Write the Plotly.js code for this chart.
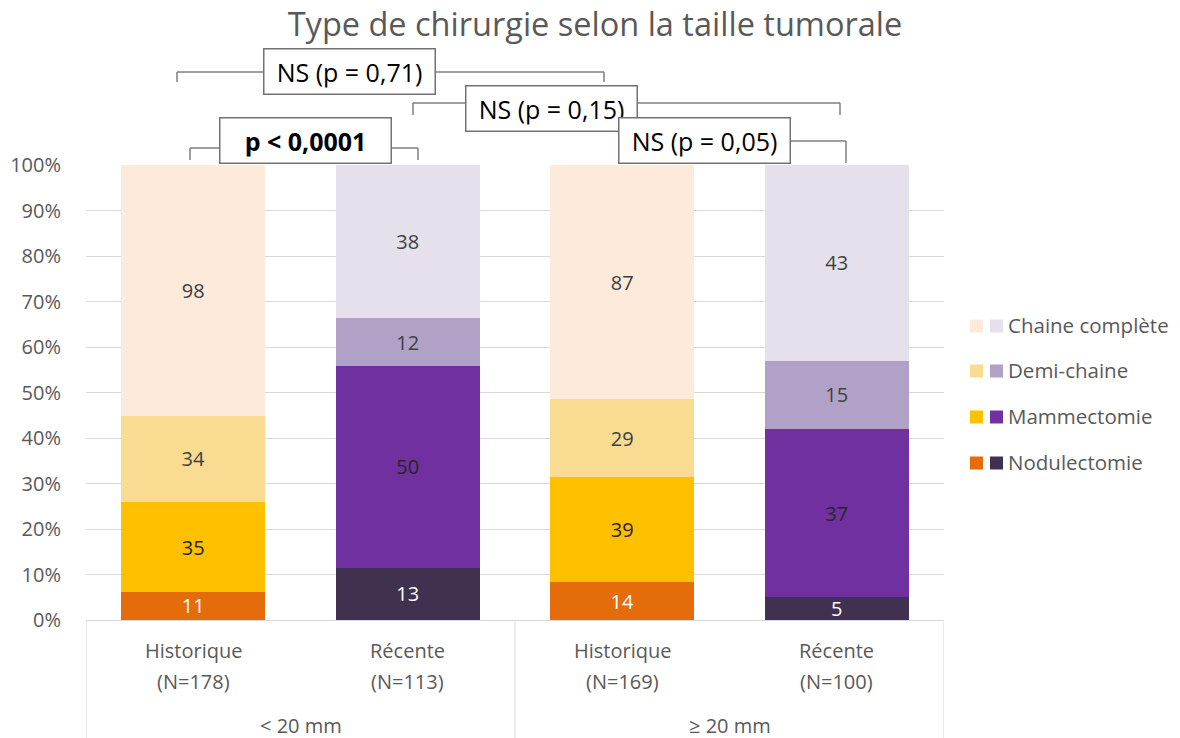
<!DOCTYPE html>
<html>
<head>
<meta charset="utf-8">
<script src="https://cdn.plot.ly/plotly-3.0.1.min.js"></script>
<style>html,body{margin:0;padding:0;background:#fff;}#chart{width:1180px;height:738px;}</style>
</head>
<body>
<div id="chart"></div>
<script>
// ---- Data ----
const categories = ["Historique (N=178)", "Récente (N=113)", "Historique (N=169)", "Récente (N=100)"];
const periodLabels = ["Historique", "Récente", "Historique", "Récente"];
const nLabels = ["(N=178)", "(N=113)", "(N=169)", "(N=100)"];
const groupLabels = ["< 20 mm", "≥ 20 mm"];
const surgeryTypes = ["Nodulectomie", "Mammectomie", "Demi-chaine", "Chaine complète"];
// counts per surgery type, per bar (order of categories)
const nodulectomie   = [11, 13, 14, 5];
const mammectomie    = [35, 50, 39, 37];
const demiChaine     = [34, 12, 29, 15];
const chaineComplete = [98, 38, 87, 43];
const pTexts = ["NS (p = 0,71)", "NS (p = 0,15)", "NS (p = 0,05)", "<b>p < 0,0001</b>"];

// ---- Styles ----
const orangeColors = ["#E46C0A", "#FFC000", "#F9DC91", "#FDEADA"];
const purpleColors = ["#403151", "#7030A0", "#B2A1C7", "#E5E0EC"];
const labelColors = ["#FFFFFF", "#262626", "#404040", "#404040"];
const FONT = "'Open Sans', sans-serif";
const GRAY = "#595959";

const series = [nodulectomie, mammectomie, demiChaine, chaineComplete];
const histIdx = [0, 2];
const recIdx = [1, 3];

const traces = [];
[[histIdx, orangeColors], [recIdx, purpleColors]].forEach(([idx, colors]) => {
  series.forEach((vals, s) => {
    traces.push({
      type: "bar",
      name: surgeryTypes[s],
      x: idx.map(i => categories[i]),
      y: idx.map(i => vals[i]),
      text: idx.map(i => String(vals[i])),
      textposition: "inside",
      insidetextanchor: "middle",
      textangle: 0,
      textfont: {family: FONT, size: 20, color: labelColors[s]},
      marker: {color: colors[s], line: {width: 0}},
      hoverinfo: "skip",
      showlegend: false
    });
  });
});

// ---- Layout geometry ----
const L = 86, R = 944, T = 165, B = 620, W = 1180, H = 738;
const PW = R - L, PH = B - T;
const px2x = px => (px - L) / PW;      // paper x
const py2y = py => (B - py) / PH;      // paper y
const catW = PW / categories.length;
const px2cat = px => (px - L) / catW - 0.5; // category index coordinate

const shapes = [];
const annotations = [];
const lineStyle = {color: "#7F7F7F", width: 1.5};

// brackets: [leftPx, rightPx, topPx, bottomPx, boxCenterPx, boxCenterYPx]
const brackets = [
  [177, 604, 72, 82, 349, 71.5],
  [413, 840, 103, 115, 551, 108.5],
  [622, 846, 141, 163, 704, 140.5],
  [190, 418, 148, 160, 305, 140.5]
];
brackets.forEach((b, k) => {
  const [x0, x1, yt, yb] = b;
  const seg = (xa, ya, xb, yb2) => shapes.push({type: "line", xref: "x", yref: "paper",
    x0: px2cat(xa), x1: px2cat(xb), y0: py2y(ya), y1: py2y(yb2), line: lineStyle, layer: "above"});
  seg(x0, yb, x0, yt);
  seg(x0, yt, x1, yt);
  seg(x1, yt, x1, yb);
});
brackets.forEach((b, k) => {
  annotations.push({
    xref: "x", yref: "paper", x: px2cat(b[4]), y: py2y(b[5]),
    xanchor: "center", yanchor: "middle", showarrow: false,
    text: pTexts[k], font: {family: FONT, size: 25, color: "#000000"},
    bgcolor: "#FFFFFF", bordercolor: "#767171", borderwidth: 1.5, borderpad: 6,
    width: 158, height: 32
  });
});

// category box lines
[-0.5, 1.5, 3.5].forEach(xv => {
  shapes.push({type: "line", xref: "x", yref: "paper", x0: xv, x1: xv,
    y0: 0, y1: py2y(H + 2), line: {color: "#D9D9D9", width: 1}});
});

// category labels
categories.forEach((c, i) => {
  annotations.push({xref: "x", yref: "paper", x: i, y: py2y(650), xanchor: "center", yanchor: "middle",
    showarrow: false, text: periodLabels[i], font: {family: FONT, size: 20, color: GRAY}});
  annotations.push({xref: "x", yref: "paper", x: i, y: py2y(681), xanchor: "center", yanchor: "middle",
    showarrow: false, text: nLabels[i], font: {family: FONT, size: 20, color: GRAY}});
});
groupLabels.forEach((g, j) => {
  annotations.push({xref: "x", yref: "paper", x: 0.5 + 2 * j, y: py2y(725), xanchor: "center", yanchor: "middle",
    showarrow: false, text: g, font: {family: FONT, size: 20, color: GRAY}});
});

// legend (two swatches per entry)
const legendRowsPx = [326, 371, 417, 463];
const legendOrder = [3, 2, 1, 0];
legendOrder.forEach((s, r) => {
  const cy = legendRowsPx[r];
  shapes.push({type: "rect", xref: "paper", yref: "paper",
    x0: px2x(970), x1: px2x(983), y0: py2y(cy + 6.5), y1: py2y(cy - 6.5),
    fillcolor: orangeColors[s], line: {width: 0}});
  shapes.push({type: "rect", xref: "paper", yref: "paper",
    x0: px2x(990), x1: px2x(1003), y0: py2y(cy + 6.5), y1: py2y(cy - 6.5),
    fillcolor: purpleColors[s], line: {width: 0}});
  annotations.push({xref: "paper", yref: "paper", x: px2x(1006), y: py2y(cy - 1),
    xanchor: "left", yanchor: "middle", showarrow: false, text: surgeryTypes[s],
    font: {family: FONT, size: 20.5, color: GRAY}});
});

const layout = {
  width: W, height: H,
  margin: {l: L, r: W - R, t: T, b: H - B, pad: 0},
  paper_bgcolor: "#FFFFFF", plot_bgcolor: "#FFFFFF",
  font: {family: FONT, color: GRAY},
  title: {text: "Type de chirurgie selon la taille tumorale",
    font: {family: FONT, size: 32.5, color: GRAY},
    x: 595 / W, xanchor: "center", xref: "container", y: 1 - 25 / H, yanchor: "middle", yref: "container"},
  barmode: "stack",
  barnorm: "percent",
  bargap: 0.33,
  showlegend: false,
  uniformtext: {mode: "show", minsize: 20},
  xaxis: {type: "category", categoryorder: "array", categoryarray: categories,
    showticklabels: false, showgrid: false, zeroline: false, showline: false,
    ticks: "", range: [-0.5, 3.5], fixedrange: true},
  yaxis: {range: [0, 100], dtick: 10, ticksuffix: "%", showgrid: true,
    gridcolor: "#D9D9D9", gridwidth: 1, zeroline: true, zerolinecolor: "#D9D9D9", zerolinewidth: 1,
    showline: false, ticks: "", ticklabelstandoff: 24,
    tickfont: {family: FONT, size: 20, color: GRAY}, fixedrange: true},
  shapes: shapes,
  annotations: annotations
};

Plotly.newPlot("chart", traces, layout, {displayModeBar: false, staticPlot: true});
</script>
</body>
</html>
